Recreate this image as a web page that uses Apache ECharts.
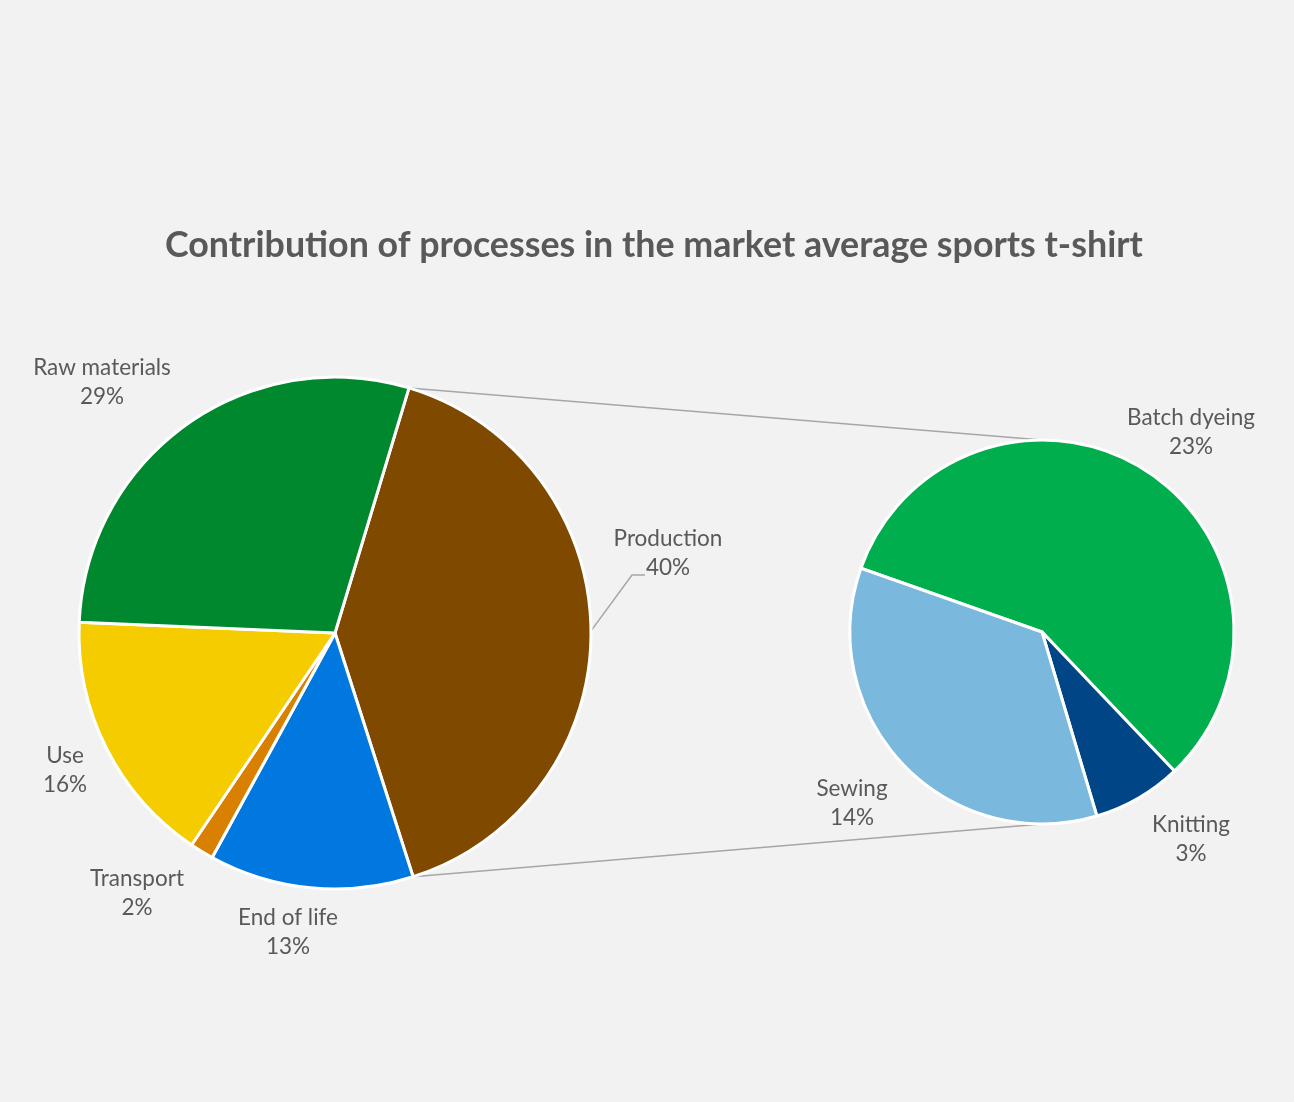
<!DOCTYPE html>
<html><head><meta charset="utf-8">
<script src="https://cdn.jsdelivr.net/npm/echarts@6/dist/echarts.min.js"></script>
<style>html,body{margin:0;padding:0;background:#f2f2f2}#c{width:1294px;height:1102px}</style>
</head><body><div id="c"></div>
<script>
// ---- data ----
const mainNames = ['Production', 'End of life', 'Transport', 'Use', 'Raw materials'];
const mainValues = [40.4, 12.9, 1.5, 16.2, 29.0];        // % of total
const subNames = ['Batch dyeing', 'Knitting', 'Sewing']; // split of "Production"
const subValues = [23, 3, 14];                           // % of total
const titleText = 'Contribution of processes in the market average sports t-shirt';

// ---- styles ----
const mainColors = ['#7f4a00', '#0078e0', '#d98000', '#f5cc00', '#00882f'];
const subColors = ['#00ae4e', '#004586', '#7ab8dd'];
const textColor = '#595959';

// ---- layout ----
const L = { cx: 335, cy: 633, r: 256, startCW: 16.8 };
const R = { cx: 1042, cy: 632, r: 192, startCW: 289.4 };
const mainLabelPos = [[668, 553], [288, 932], [137, 893], [65, 770], [102, 382]];
const subLabelPos = [[1191, 432], [1191, 839], [852, 803]];

const rad = d => d * Math.PI / 180;
const pt = (g, a, rr) => [g.cx + (rr || g.r) * Math.sin(rad(a)), g.cy - (rr || g.r) * Math.cos(rad(a))];
const total = mainValues.reduce((s, v) => s + v, 0);
const prodA0 = L.startCW;
const prodA1 = L.startCW + 360 * mainValues[0] / total;
const prodMid = (prodA0 + prodA1) / 2;
const pTop = pt(L, prodA0), pBot = pt(L, prodA1);
const sTop = [R.cx, R.cy - R.r], sBot = [R.cx, R.cy + R.r];

const chart = echarts.init(document.getElementById('c'));
const labelBase = {
  show: true, position: 'outside', color: textColor, fontFamily: 'Lato', fontSize: 22.5, lineHeight: 29,
  align: 'center', overflow: 'none', formatter: p => p.name + '\n' + Math.round(p.value) + '%'
};
chart.setOption({
  backgroundColor: '#f2f2f2',
  animation: false,
  title: {
    text: titleText, left: 160, top: 222,
    textStyle: { color: textColor, fontFamily: 'Lato', fontWeight: 'bold', fontSize: 35.8 }
  },
  graphic: [
    { type: 'line', z: 0, shape: { x1: pTop[0], y1: pTop[1], x2: sTop[0], y2: sTop[1] }, style: { stroke: '#a6a6a6', lineWidth: 1.5 } },
    { type: 'line', z: 0, shape: { x1: pBot[0], y1: pBot[1], x2: sBot[0], y2: sBot[1] }, style: { stroke: '#a6a6a6', lineWidth: 1.5 } }
  ],
  series: [
    {
      type: 'pie', center: [L.cx, L.cy], radius: L.r, startAngle: 90 - L.startCW, clockwise: true,
      label: labelBase, labelLine: { show: false, lineStyle: { color: '#a6a6a6', width: 1.5 } },
      itemStyle: { borderColor: '#ffffff', borderWidth: 3 },
      emphasis: { disabled: true },
      data: mainNames.map((n, i) => ({
        name: n, value: mainValues[i], itemStyle: { color: mainColors[i] },
        labelLine: { show: i === 0 }
      })),
      labelLayout: p => {
        const [x, y] = mainLabelPos[p.dataIndex];
        const o = { x, y, align: 'center', verticalAlign: 'middle' };
        if (p.dataIndex === 0) {
          const e = pt(L, prodMid);
          o.labelLinePoints = [e, [x - 36, y + 22], [x - 23, y + 22]];
        }
        return o;
      }
    },
    {
      type: 'pie', center: [R.cx, R.cy], radius: R.r, startAngle: 90 - R.startCW, clockwise: true,
      label: labelBase, labelLine: { show: false },
      itemStyle: { borderColor: '#ffffff', borderWidth: 3 },
      emphasis: { disabled: true },
      data: subNames.map((n, i) => ({ name: n, value: subValues[i], itemStyle: { color: subColors[i] } })),
      labelLayout: p => {
        const [x, y] = subLabelPos[p.dataIndex];
        return { x, y, align: 'center', verticalAlign: 'middle' };
      }
    }
  ]
});
</script>
</body></html>
